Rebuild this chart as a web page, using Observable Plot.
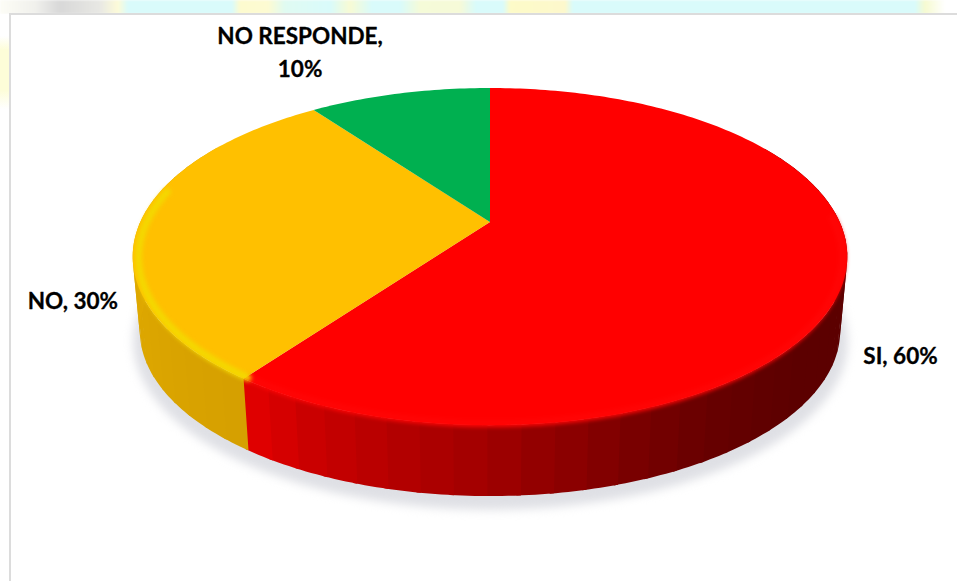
<!DOCTYPE html>
<html>
<head>
<meta charset="utf-8">
<script src="https://cdn.jsdelivr.net/npm/d3@7"></script>
<script src="https://cdn.jsdelivr.net/npm/@observablehq/plot@0.6"></script>
<style>
  html, body { margin: 0; padding: 0; background: #fff; }
  #page { position: relative; width: 957px; height: 581px; overflow: hidden; background: #fff; }
  #strip { position: absolute; left: 0; top: 0; width: 957px; height: 14px; filter: blur(1px);
    background: linear-gradient(90deg, #fdfdf6 0, #f0f0ec 36px, #d8d8d8 60px, #e8e8e4 100px, #fdfbd8 118px, #d9fbfb 128px,
      #d9fbfb 232px, #fdfbcf 240px, #fdfbd2 268px, #e0fbf2 285px, #d9fbfb 330px, #f8fbd4 350px, #d9fbfb 372px,
      #d9fbfb 400px, #f5fbd8 420px, #f6fad8 460px, #d9fbfb 476px, #d9fbfb 503px, #fdfbc8 510px, #fdf8cc 565px, #d9fbfb 573px,
      #d9fbfb 915px, #f6fad0 925px, #ffffff 945px); }
  #side { position: absolute; left: 0; top: 14px; width: 9px; height: 567px;
    background: linear-gradient(180deg, #ffffff 0, #ffffff 22px, #fdfdd8 36px, #fdfdd8 76px, #ffffff 95px, #ffffff 100%); }
  #frame { position: absolute; left: 9px; top: 13px; width: 948px; height: 568px; box-sizing: border-box;
    background: #fff; border-top: 2px solid #dcdcdc; border-left: 2px solid #dcdcdc; }
  #chart { position: absolute; left: 0; top: 0; }
  #chart svg { background: transparent; display: block; }
</style>
</head>
<body>
<div id="page"><div id="strip"></div><div id="side"></div><div id="frame"></div><div id="chart"></div></div>
<script>
// Data
const categories = ["SI", "NO", "NO RESPONDE"];
const shares = [60, 30, 10];
const labelTexts = ["SI, 60%", "NO, 30%", "NO RESPONDE,\n10%"];

// Styles
const topColors = ["#ff0000", "#ffc000", "#00b050"];
const bevelColors = ["#ff0505", "#f4d800", "#00b050"];
const wallStops = [
  ["#e60000", "#c80000", "#b40000", "#a40000", "#900000", "#7a0000", "#660000", "#5c0000"],
  ["#d6a000", "#dca600", "#e0aa00", "#d9a400"],
  ["#00803a", "#00803a"]
];
const labelShiftX = [62, -75, -100];
const labelShiftY = [4, 1, -44];

// Perspective of the disc
const W = 957, H = 581;
const cx = 490, cy = 222, A = 349.7, B = 161.5, k = 0.205, depth = 75, baseScale = 0.98;
function project(deg, scale = 1, drop = 0) {
  const t = deg * Math.PI / 180, u = Math.sin(t), v = -Math.cos(t), w = 1 - k * v;
  return {x: cx + A * scale * u / w, y: cy + drop + B * scale * v / w};
}

const toDeg = 180 / Math.PI;
const arcs = d3.pie().sort(null)(shares).map((a, i) => ({
  i,
  start: a.startAngle * toDeg,
  end: a.endAngle * toDeg,
  mid: (a.startAngle + a.endAngle) / 2 * toDeg
}));

function samples(start, end, step = 1) {
  const n = Math.max(1, Math.ceil((end - start) / step));
  return d3.range(n + 1).map(j => start + (end - start) * j / n);
}

// Top face
const faceRows = arcs.flatMap(a => samples(a.start, a.end).map(deg => {
  const p = project(deg);
  return {slice: categories[a.i], color: topColors[a.i], x: p.x, y: p.y};
}));

// Wall: bands of flat shade, as in the 3-D rendering
const bandStep = 4.5;
const wallRows = arcs.flatMap(a => {
  const from = Math.max(a.start, 60), to = Math.min(a.end, 300);
  if (to <= from) return [];
  const ramp = d3.piecewise(d3.interpolateRgb, wallStops[a.i]);
  const edges = samples(from, to, bandStep);
  return edges.slice(0, -1).flatMap((e, j) => {
    const f = a.i === 0 ? Math.min(1, Math.max(0, (project(e).x - 249) / 560)) : j / (edges.length - 1);
    const color = ramp(f);
    return samples(e, edges[j + 1] + 0.6).map(deg => {
      const p = project(deg), q = project(deg, baseScale, depth);
      return {band: `${a.i}-${j}`, color, x1: p.x, y1: p.y, x2: q.x, y2: q.y};
    });
  });
});

// Soft shadow under the disc
const shadowRows = samples(0, 360, 2).map(deg => {
  const q = project(deg, 1.0, depth + 9);
  return {x: q.x, y: q.y};
});

// Bevel highlight round the front of the rim
const bevelRows = arcs.flatMap(a => {
  const from = Math.max(a.start, 88), to = Math.min(a.end, 282);
  if (to <= from) return [];
  return samples(from, to).map(deg => {
    const p = project(deg, 0.985, 1);
    return {slice: categories[a.i], color: bevelColors[a.i], x: p.x, y: p.y};
  });
});

// Labels hang off the base rim at each slice's middle
const labelRows = arcs.map(a => {
  const p = a.i === 2 ? project(a.mid) : project(a.mid, baseScale, depth);
  return {text: labelTexts[a.i], x: p.x + labelShiftX[a.i], y: p.y + labelShiftY[a.i]};
});

const plot = Plot.plot({
  width: W, height: H, margin: 0,
  x: {domain: [0, W], range: [0, W], axis: null},
  y: {domain: [0, H], range: [0, H], axis: null},
  color: {type: "identity"},
  marks: [
    Plot.line(shadowRows, {x: "x", y: "y", fill: "#dfe0e5", stroke: "none", curve: "linear"}),
    Plot.area(wallRows, {x1: "x1", y1: "y1", x2: "x2", y2: "y2", z: "band", fill: "color", curve: "linear"}),
    Plot.area(faceRows, {x1: cx, y1: cy, x2: "x", y2: "y", z: "slice", fill: "color", curve: "linear"}),
    Plot.line(bevelRows, {x: "x", y: "y", z: "slice", stroke: "color", strokeWidth: 7, curve: "linear"}),
    Plot.text(labelRows, {x: "x", y: "y", text: "text", fontFamily: "Lato", fontWeight: 700, fontSize: 22.5, fill: "#000", stroke: "#000", strokeWidth: 0.3, lineHeight: 1.47, lineAnchor: "middle"})
  ]
});
const groups = plot.querySelectorAll(":scope > g");
groups[0].style.filter = "blur(5px)";
groups[3].style.filter = "blur(2px)";
document.getElementById("chart").appendChild(plot);
</script>
</body>
</html>
